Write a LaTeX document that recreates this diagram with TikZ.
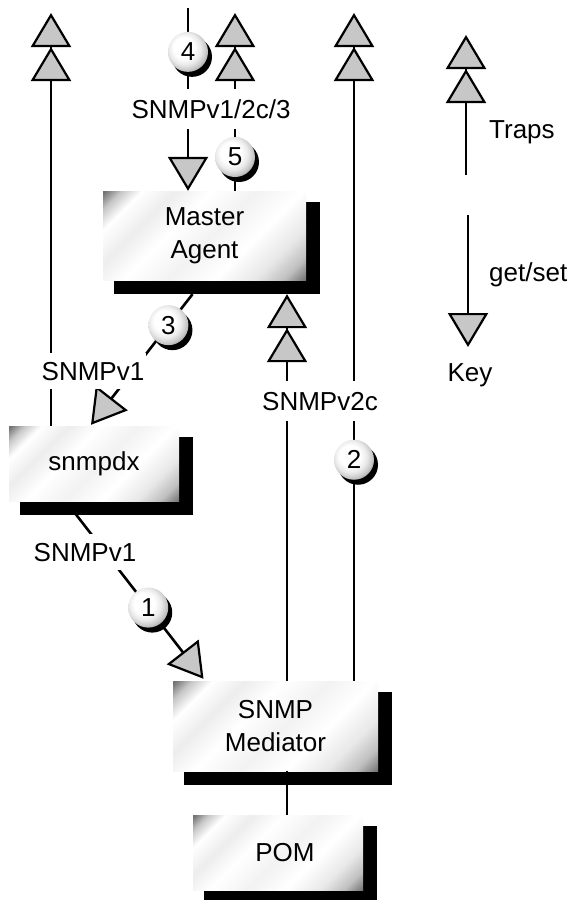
\documentclass[tikz,border=0pt]{standalone}
\usepackage{fontspec}
\setmainfont{Liberation Sans}
\usetikzlibrary{arrows.meta,calc,shadows}

\pgfdeclarelayer{shadowlayer}
\pgfsetlayers{shadowlayer,main}

% brushed-metal face of the boxes
\pgfdeclarehorizontalshading{metal}{100bp}{%
  color(0bp)=(black!55); color(15bp)=(black!55); color(19bp)=(black!22);
  color(24bp)=(white); color(32bp)=(black!7); color(41bp)=(white);
  color(52bp)=(black!5); color(63bp)=(white); color(73bp)=(black!9);
  color(80bp)=(black!25); color(86bp)=(black!58); color(100bp)=(black!58)}
% pearl look of the numbered step markers
\pgfdeclareradialshading{pearl}{\pgfpoint{-7bp}{7bp}}{%
  color(0bp)=(white); color(13bp)=(white); color(20bp)=(black!8);
  color(26bp)=(black!22); color(32bp)=(black!45); color(50bp)=(black!55)}

\definecolor{tipgray}{gray}{0.78}

\newcommand\boxshadow[1]{%
  \fill[black] ([shift={(11,14)}]#1.south west) rectangle ([shift={(14,11)}]#1.north east);}

\begin{document}
\begin{tikzpicture}[x=1pt,y=-1pt,
  font=\fontsize{26}{33}\selectfont,
  box/.style={rectangle, shade, shading=metal, shading angle=-45,
    align=center, inner sep=0pt},
  wire/.style={line width=2.6pt},
  trap/.style={wire, -{Triangle[length=34pt,width=40pt,fill=tipgray,line width=2.2pt,sep=0pt]
      Triangle[length=34pt,width=40pt,fill=tipgray,line width=2.2pt]}},
  getset/.style={wire, -{Triangle[length=34pt,width=40pt,fill=tipgray,line width=2.2pt]}},
  ball/.style={circle, minimum size=40pt, inner sep=0pt, shade, shading=pearl,
    drop shadow={shadow xshift=4pt, shadow yshift=-5pt, fill=black, opacity=1}},
  lbl/.style={fill=white, text height=18pt, text depth=0pt, inner xsep=2pt, inner ysep=9pt},
  keytext/.style={inner sep=0pt}]

\useasboundingbox (0,0) rectangle (570,900);

% boxes
\node[box, minimum width=203pt, minimum height=89pt] (ma)  at (204.5,235.5) {Master\\Agent};
\node[box, minimum width=170pt, minimum height=75pt] (sd)  at (94,463.5)    {snmpdx};
\node[box, minimum width=205pt, minimum height=90pt] (med) at (275.5,726)   {SNMP\\Mediator};
\node[box, minimum width=170pt, minimum height=75pt] (pom) at (278,852.5)   {\hspace{14pt}POM};

\begin{pgfonlayer}{shadowlayer}
  \boxshadow{ma}
  \boxshadow{sd}
  \boxshadow{med}
  \boxshadow{pom}
\end{pgfonlayer}

% reference columns and free ends
\coordinate (c1)   at (51,13);
\coordinate (col2) at (287,0);
\coordinate (c3)   at (354,13);
\coordinate (top4) at (188,8);
\coordinate (c5)   at (235,13);

% connectors
\draw[trap] (sd.north -| c1) -- (c1);
\draw[getset] ($(ma.south)+(-12,14)$) -- node[ball, pos=0.237] (n3) {3} ($(sd.north)+(-3,-1)$);
\draw[getset] ($(sd.south)+(-19,12)$) -- node[ball, pos=0.57] (n1) {1} ($(med.north)+(-72,-2)$);
\draw[trap] (med.north -| col2) -- ($(ma.south -| col2)+(0,14)$);
\draw[trap] (med.north -| c3) -- node[ball, pos=0.331] (n2) {2} (c3);
\draw[getset] (top4) -- node[ball, pos=0.24] (n4) {4} (ma.north -| top4);
\draw[trap] (ma.north -| c5) -- node[ball, pos=0.19] (n5) {5} (c5);
\draw[wire] (med.south -| col2) -- (pom.north -| col2);

% protocol labels
\node[lbl] (l1) at (93,371) {SNMPv1};
\node[lbl] (l2) at (85,552) {SNMPv1};
\node[lbl, inner ysep=11pt] (l3) at (320,401) {SNMPv2c};
\node[lbl, inner ysep=11pt] (l4) at (211,109) {SNMPv1/2c/3};

% key
\coordinate (k1s) at (466,175);
\coordinate (k1e) at (466,35);
\draw[trap] (k1s) -- (k1e);
\node[keytext, anchor=base west] (ktraps) at (489,138) {Traps};
\coordinate (k2s) at (468,215);
\coordinate (k2e) at (468,347);
\draw[getset] (k2s) -- (k2e);
\node[keytext, anchor=base west] (kgs) at (489,281) {get/set};
\node[keytext, anchor=base] (key) at (470,381) {Key};
\end{tikzpicture}
\end{document}
